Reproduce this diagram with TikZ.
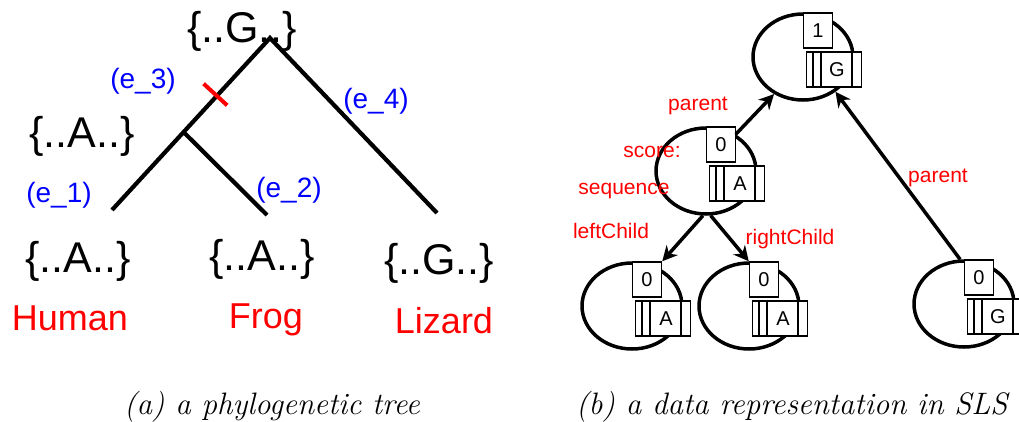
\documentclass[tikz,border=0pt]{standalone}
\usepackage{fontspec}
\newfontfamily\arialfont{Liberation Sans}
\usetikzlibrary{arrows.meta, positioning, calc, shapes.geometric}
\definecolor{c1}{HTML}{000000}
\definecolor{tagred}{HTML}{FF0000}
\definecolor{edgeblue}{HTML}{0000FF}

\begin{document}
\begin{tikzpicture}[
    x=1pt, y=-1pt,
    every node/.style={font=\arialfont, inner sep=0pt},
    seqtxt/.style={font=\arialfont\fontsize{43}{50}\selectfont, text=c1},
    taxon/.style={font=\arialfont\fontsize{36}{42}\selectfont, text=tagred},
    elab/.style={font=\arialfont\fontsize{28}{33}\selectfont, text=edgeblue},
    fld/.style={font=\arialfont\fontsize{21}{25}\selectfont, text=tagred},
    subcap/.style={font=\rmfamily\itshape\fontsize{31}{36}\selectfont},
    branch/.style={line width=4.2pt, color=c1, line join=miter},
    cut/.style={line width=4pt, color=tagred},
    arr/.style={-{Stealth[length=15pt, width=15pt]}, line width=3.5pt, color=c1},
    blob/.style={ellipse, draw=c1, line width=3.5pt, minimum width=100pt,
                 minimum height=86pt},
    score/.style={rectangle, draw=c1, fill=white, line width=1.5pt,
                  minimum width=29pt, minimum height=35pt,
                  font=\arialfont\fontsize{20}{24}\selectfont},
    seqbox/.style={rectangle, draw=c1, fill=white, line width=1.5pt,
                   minimum width=55pt, minimum height=35pt},
    cellline/.style={line width=1.5pt, color=c1},
    boxtxt/.style={font=\arialfont\fontsize{20}{24}\selectfont},
]
\useasboundingbox (0,0) rectangle (1019,421);

% (a) the tree
\coordinate (root) at (270,38);
\coordinate (human) at (112,210);
\coordinate (frog) at (267,215);
\coordinate (lizard) at (437,213);
\coordinate (inner) at ($(root)!0.547!(human)$);

\draw[branch] (human) -- (root) -- (lizard);
\draw[branch] (inner) -- (frog);
\draw[cut] ($(root)!0.615!(inner)!18pt!-90:(inner)$) -- ($(root)!0.615!(inner)!14pt!90:(inner)$);

\node[seqtxt, anchor=base] (sRoot) at (242,42) {\{..G..\}};
\node[seqtxt, anchor=base] (sInner) at (82,147) {\{..A..\}};
\node[seqtxt, anchor=base] (sHuman) at (78,272) {\{..A..\}};
\node[seqtxt, anchor=base] (sFrog) at (262,270) {\{..A..\}};
\node[seqtxt, anchor=base] (sLizard) at (439,274) {\{..G..\}};

\node[taxon, anchor=base] (tHuman) at (70,330) {Human};
\node[taxon, anchor=base] (tFrog) at (266,328) {Frog};
\node[taxon, anchor=base] (tLizard) at (444,333) {Lizard};

\node[elab, anchor=base] (e3) at (143,88.5) {(e\_3)};
\node[elab, anchor=base] (e4) at (376,108) {(e\_4)};
\node[elab, anchor=base] (e1) at (59,202) {(e\_1)};
\node[elab, anchor=base] (e2) at (289,197) {(e\_2)};

% (b) the records: ellipse, score box, sequence box
\foreach \nm/\cx/\cy/\sc/\base in {top/803/57/1/G, mid/706/171/0/A,
        kidL/632/306/0/A, kidR/749/306/0/A, liz/964/304/0/G}{
    \node[blob] (\nm) at (\cx,\cy) {};
    \node[score] (\nm-s) at ({\cx+15},{\cy-26.5}) {\sc};
    \node[seqbox] (\nm-q) at ({\cx+31},{\cy+12.5}) {};
    \foreach \d in {7,15,46}{
        \draw[cellline] ([xshift=\d pt]\nm-q.north west) -- ([xshift=\d pt]\nm-q.south west);
    }
    \node[boxtxt] (\nm-b) at ([xshift=3pt]\nm-q.center) {\base};
}

\draw[arr] (mid.51) -- (top.232);
\draw[arr] (liz.95) -- (top.313);
\draw[arr] (mid.266) -- (kidL-s.north east);
\draw[arr] (mid.276) -- (kidR-s.north west);

\node[fld, anchor=base] (fParent) at (698,110) {parent};
\node[fld, anchor=base] (fScore) at (652,157) {score:};
\node[fld, anchor=base] (fSeq) at (624,194) {sequence};
\node[fld, anchor=base] (fLeft) at (611,238) {leftChild};
\node[fld, anchor=base] (fRight) at (790,244) {rightChild};
\node[fld, anchor=base] (fParent2) at (938,182) {parent};

% captions
\node[subcap, anchor=base] (capA) at (272,414) {(a) a phylogenetic tree};
\node[subcap, anchor=base west] (capB) at (576,414) {(b) a data representation in SLS};
\end{tikzpicture}
\end{document}
